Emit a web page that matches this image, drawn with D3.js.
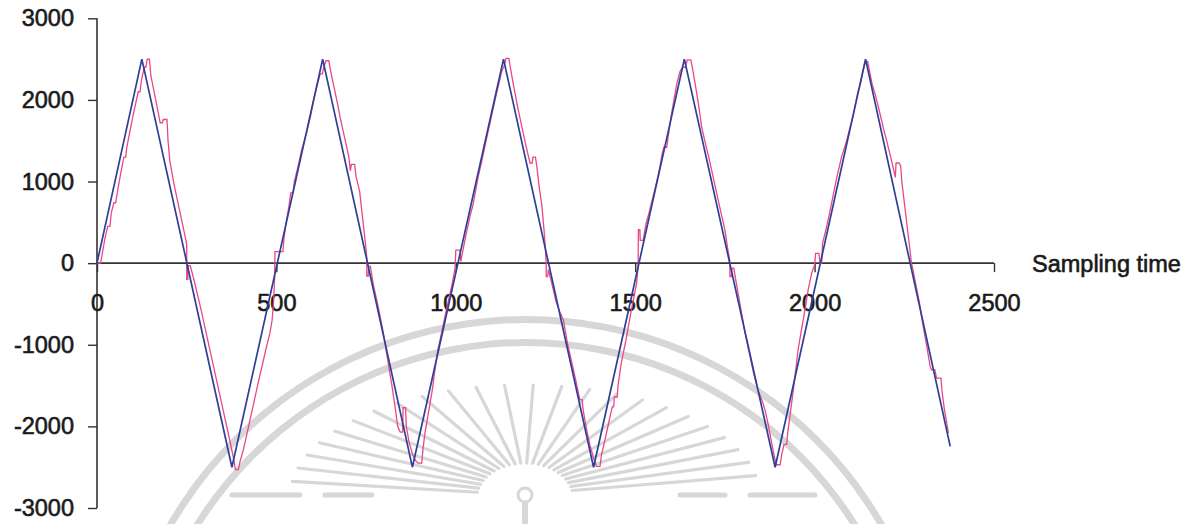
<!DOCTYPE html>
<html>
<head>
<meta charset="utf-8">
<script src="https://cdn.jsdelivr.net/npm/d3@7/dist/d3.min.js"></script>
<style>
  html, body { margin: 0; padding: 0; background: #ffffff; }
  svg { display: block; }
  .tick text { font-family: "Liberation Sans", Arial, sans-serif; }
</style>
</head>
<body>
<div id="chart"></div>
<script>
// Axis ticks
const xTicks = [0, 500, 1000, 1500, 2000, 2500];
const yTicks = [-3000, -2000, -1000, 0, 1000, 2000, 3000];
const xLabel = "Sampling time";

// Command signal: triangle wave vertices [sample, value]
const commandSignal = [
  [0, 0], [125, 2500], [376, -2500], [629, 2500], [879, -2500],
  [1133, 2500], [1384, -2500], [1637, 2500], [1890, -2500],
  [2142, 2500], [2378, -2245]
];

// Measured signal (quantised, lagging response) [sample, value]
const measuredSignal = [
  [0, 0], [10, 0], [22, 300], [30, 450], [36, 450], [40, 620], [47, 740], [52, 740],
  [58, 900], [66, 1100], [75, 1300], [80, 1300], [83, 1420], [92, 1620], [100, 1800],
  [108, 1960], [115, 2100], [120, 2100], [124, 2250], [132, 2400], [136, 2400],
  [140, 2500], [146, 2500],
  [150, 2300], [160, 2080], [170, 1860], [176, 1720], [182, 1720], [185, 1760],
  [195, 1760], [198, 1500], [203, 1250], [215, 960], [230, 650], [245, 340],
  [250, 230], [250, -200], [253, -200], [254, -30], [260, -30], [270, -200],
  [290, -570], [310, -970], [330, -1370], [350, -1770], [370, -2170], [380, -2380],
  [386, -2530], [394, -2530],
  [398, -2440], [408, -2285], [420, -2050], [430, -1850], [440, -1650], [449, -1470],
  [460, -1260], [470, -1070], [482, -855], [488, -700], [492, -480], [495, -200],
  [496, 140], [518, 140], [521, 300], [528, 520], [535, 700], [540, 860], [546, 860],
  [550, 1000], [560, 1180], [570, 1380], [584, 1594], [595, 1800], [605, 2020],
  [615, 2200], [622, 2320], [628, 2320], [632, 2400], [638, 2480], [646, 2480],
  [650, 2380], [660, 2170], [670, 1960], [677, 1800], [685, 1640], [695, 1440],
  [702, 1300], [706, 1130], [709, 1210], [718, 1210], [722, 1060], [732, 880],
  [740, 560], [748, 250], [752, 60], [752, -160], [756, -160], [757, -40], [762, -40],
  [770, -260], [785, -560], [798, -855], [810, -1180], [822, -1500], [832, -1800],
  [838, -2000], [845, -2070], [852, -2070], [853, -1770], [860, -1770], [862, -2000],
  [870, -2200], [880, -2350], [888, -2420], [895, -2450], [905, -2450],
  [908, -2300], [914, -2080], [925, -1800], [935, -1540], [942, -1300], [950, -1061],
  [960, -860], [970, -650], [980, -450], [990, -250], [998, -60], [1000, 160],
  [1012, 160], [1014, 20], [1020, 160], [1030, 380], [1040, 580], [1047, 700],
  [1054, 858], [1062, 1050], [1070, 1200], [1081, 1428], [1092, 1650], [1102, 1850],
  [1112, 2050], [1120, 2200], [1128, 2350], [1135, 2420], [1140, 2510], [1148, 2510],
  [1152, 2400], [1160, 2200], [1173, 1900], [1185, 1650], [1195, 1450], [1203, 1300],
  [1207, 1227], [1213, 1227], [1215, 1300], [1222, 1300], [1226, 1180], [1232, 950],
  [1240, 700], [1246, 400], [1250, 150], [1252, 0], [1252, -164], [1256, -164],
  [1258, -80], [1265, -200], [1280, -480], [1290, -600], [1300, -700], [1312, -1000],
  [1325, -1250], [1335, -1450], [1342, -1600], [1346, -1673], [1352, -1673],
  [1355, -1800], [1365, -2050], [1375, -2250], [1385, -2400], [1392, -2490], [1402, -2490],
  [1406, -2350], [1415, -2180], [1425, -1980], [1430, -1878], [1436, -1760], [1440, -1760],
  [1442, -1640], [1450, -1640], [1452, -1500], [1462, -1200], [1474, -950], [1486, -653],
  [1495, -450], [1504, -245], [1508, -50], [1509, 410], [1513, 410], [1514, 280],
  [1522, 280], [1530, 480], [1540, 640], [1550, 820], [1560, 1000], [1569, 1183],
  [1575, 1340], [1580, 1420], [1588, 1420], [1592, 1550], [1600, 1800], [1608, 2000],
  [1616, 2200], [1625, 2350], [1632, 2400], [1640, 2400], [1645, 2490], [1655, 2490],
  [1660, 2380], [1670, 2120], [1678, 1900], [1685, 1673], [1695, 1480], [1705, 1300],
  [1715, 1100], [1725, 900], [1735, 700], [1742, 560], [1750, 408], [1757, 200],
  [1764, 20], [1764, -164], [1768, -164], [1770, -60], [1775, -60], [1780, -200],
  [1792, -500], [1806, -855], [1818, -1100], [1830, -1350], [1842, -1550], [1855, -1700],
  [1862, -1800], [1870, -1959], [1878, -2150], [1886, -2330], [1893, -2470], [1904, -2470],
  [1908, -2350], [1915, -2220], [1922, -2220], [1925, -2080], [1935, -1750], [1945, -1400],
  [1954, -1061], [1962, -850], [1972, -600], [1982, -327], [1992, -120], [2000, -20],
  [2003, 120], [2012, 120], [2015, 0], [2020, 0], [2022, 240], [2032, 420], [2042, 620],
  [2051, 815], [2062, 1050], [2075, 1300], [2088, 1480], [2098, 1650], [2107, 1795],
  [2114, 1950], [2120, 2080], [2128, 2200], [2135, 2350], [2140, 2440], [2148, 2470],
  [2152, 2380], [2160, 2200], [2170, 2050], [2182, 1837], [2192, 1650], [2202, 1480],
  [2212, 1300], [2220, 1150], [2225, 1050], [2227, 1227], [2235, 1227], [2240, 1190],
  [2243, 1000], [2248, 820], [2255, 560], [2262, 300], [2270, 0], [2275, -100],
  [2282, -260], [2292, -480], [2302, -760], [2312, -1000], [2322, -1265], [2326, -1306],
  [2335, -1306], [2340, -1408], [2352, -1408], [2356, -1600], [2362, -1800],
  [2368, -1950], [2373, -2082]
];

const W = 1201, H = 524;
const svg = d3.select("#chart").append("svg")
  .attr("width", W).attr("height", H)
  .attr("viewBox", `0 0 ${W} ${H}`);

const x = d3.scaleLinear().domain([0, 2500]).range([97, 994]);
const y = d3.scaleLinear().domain([-3000, 3000]).range([508, 18.3]);

// Faint seal watermark in the background
const markGrey = "#d7d7d7";
const mark = svg.append("g").attr("fill", "none").attr("stroke", markGrey);
const cx = 526, cy = 730;
const arc = d3.arc().startAngle(-Math.PI / 2).endAngle(Math.PI / 2);
mark.append("path").attr("transform", `translate(${cx},${cy})`)
  .attr("d", arc.innerRadius(407).outerRadius(414)()).attr("fill", markGrey).attr("stroke", "none");
mark.append("path").attr("transform", `translate(${cx},${cy})`)
  .attr("d", arc.innerRadius(384).outerRadius(391)()).attr("fill", markGrey).attr("stroke", "none");
const sx = 525, sy = 497;
const rayAngles = d3.range(-172, -7, 7);
mark.selectAll("line.ray").data(rayAngles).join("line")
  .attr("class", "ray")
  .attr("x1", a => sx + 48 * Math.cos(a * Math.PI / 180))
  .attr("y1", a => sy + 34 * Math.sin(a * Math.PI / 180))
  .attr("x2", a => sx + 235 * Math.cos(a * Math.PI / 180))
  .attr("y2", a => sy + 112 * Math.sin(a * Math.PI / 180))
  .attr("stroke-width", 3.2).attr("stroke-linecap", "round");
mark.append("circle").attr("cx", sx).attr("cy", sy - 2).attr("r", 7).attr("stroke-width", 3);
mark.append("line").attr("x1", sx).attr("x2", sx).attr("y1", sy + 6).attr("y2", sy + 30).attr("stroke-width", 6);
[[232, 300], [325, 372], [680, 725], [750, 815]].forEach(d => {
  mark.append("line").attr("x1", d[0]).attr("x2", d[1]).attr("y1", 495).attr("y2", 495)
    .attr("stroke-width", 5).attr("stroke-linecap", "round");
});

// Axes
const axisColor = "#333333";
const textColor = "#1a1a1a";
const fontFam = '"Liberation Sans", Arial, sans-serif';
const plainNumber = d => String(d);

const yAxis = svg.append("g").attr("transform", `translate(${x(0)},0)`)
  .call(d3.axisLeft(y).tickValues(yTicks).tickSize(9).tickPadding(14).tickFormat(plainNumber));
const xAxis = svg.append("g").attr("transform", `translate(0,${y(0)})`)
  .call(d3.axisBottom(x).tickValues(xTicks).tickSize(9).tickPadding(22).tickFormat(plainNumber));

[yAxis, xAxis].forEach(g => {
  g.select(".domain").attr("stroke", axisColor).attr("stroke-width", 1.6);
  g.selectAll(".tick line").attr("stroke", axisColor).attr("stroke-width", 1.4);
  g.selectAll(".tick text").attr("fill", textColor)
    .attr("stroke", textColor).attr("stroke-width", 0.6)
    .style("font-size", "23.5px").style("font-family", fontFam);
});
// axis lines without outer caps
xAxis.select(".domain").attr("d", `M${x(0)},0H${x(2500)}`);
yAxis.select(".domain").attr("d", `M0,${y(3000)}V${y(-3000)}`);

svg.append("text")
  .attr("x", 1032).attr("y", y(0) + 9)
  .attr("fill", textColor).attr("stroke", textColor).attr("stroke-width", 0.6)
  .style("font-family", fontFam).style("font-size", "23.5px")
  .text(xLabel);

// Signals
const line = d3.line().x(d => x(d[0])).y(d => y(d[1]));
svg.append("path").datum(measuredSignal)
  .attr("d", line).attr("fill", "none")
  .attr("stroke", "#e8488a").attr("stroke-width", 1.3).attr("stroke-linejoin", "miter");
svg.append("path").datum(commandSignal)
  .attr("d", line).attr("fill", "none")
  .attr("stroke", "#2d3f96").attr("stroke-width", 1.7).attr("stroke-linejoin", "miter");
</script>
</body>
</html>
